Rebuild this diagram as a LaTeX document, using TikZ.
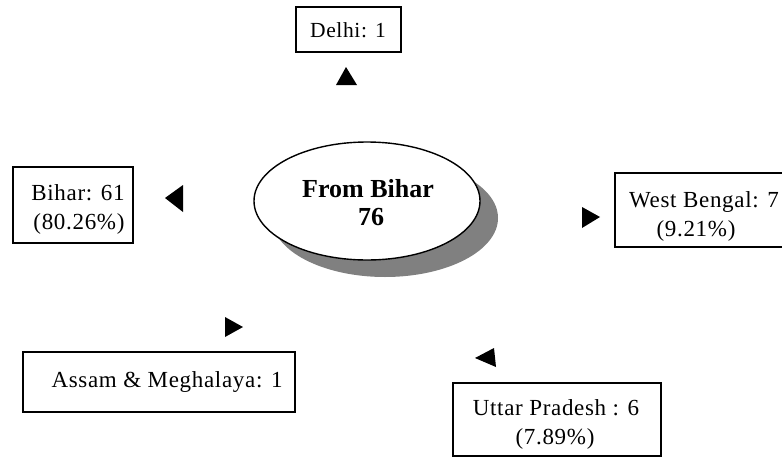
\documentclass[tikz,border=0pt]{standalone}
\usepackage{fontspec}
\usetikzlibrary{shapes.geometric}
\setmainfont{Liberation Serif}
\newfontfamily\spacedfont[LetterSpace=3]{Liberation Serif}
\begin{document}
\begin{tikzpicture}[x=1pt,y=-1pt,
  box/.style={draw=black,line width=1.4pt,fill=white,rectangle,inner sep=0pt},
  lbl/.style={anchor=base,inner sep=0pt,font=\spacedfont\fontsize{23}{28}\selectfont},
  blbl/.style={anchor=base,inner sep=0pt,font=\bfseries\fontsize{26}{28}\selectfont},
  tri/.style={fill=black,draw=none}]
\useasboundingbox (0,0) rectangle (782,458);
\clip (0,0) rectangle (782,458);
% central ellipse with shadow
\fill[black!50] (385,218) ellipse [x radius=113pt,y radius=59pt];
\node[draw=black,line width=1.4pt,fill=white,ellipse,minimum width=226pt,minimum height=118pt,inner sep=0pt] (centre) at (367,201) {};
\node[blbl] (centreA) at (368,197) {From Bihar};
\node[blbl] (centreB) at (371,225) {76};
% Delhi
\node[box,minimum width=105pt,minimum height=45pt] (delhi) at (348.5,29.5) {};
\node[lbl,font=\spacedfont\fontsize{21.5}{28}\selectfont] (delhiT) at (348,37) {Delhi: 1};
\fill[tri] (346,67) -- (357,85) -- (336,85) -- cycle;
% Bihar
\node[box,minimum width=120pt,minimum height=76pt] (bihar) at (73,205) {};
\node[lbl] (biharA) at (78,200) {Bihar: 61};
\node[lbl] (biharB) at (79,229) {(80.26\%)};
\fill[tri] (165,198) -- (183,185) -- (183,212) -- cycle;
% West Bengal
\node[box,minimum width=180pt,minimum height=74pt] (wb) at (705,210) {};
\node[lbl] (wbA) at (704,207) {West Bengal: 7};
\node[lbl] (wbB) at (696,236) {(9.21\%)};
\fill[tri] (600,217) -- (582,207) -- (582,228) -- cycle;
% Assam & Meghalaya
\node[box,minimum width=272pt,minimum height=60pt] (assam) at (159,382) {};
\node[lbl] (assamT) at (167,387) {Assam \& Meghalaya: 1};
\fill[tri] (243,327) -- (225,317) -- (225,337) -- cycle;
% Uttar Pradesh
\node[box,minimum width=208pt,minimum height=73pt] (up) at (557,419.5) {};
\node[lbl] (upA) at (556,415) {Uttar Pradesh : 6};
\node[lbl] (upB) at (555,444) {(7.89\%)};
\fill[tri] (475,358) -- (494,348) -- (496,367) -- cycle;
\end{tikzpicture}
\end{document}
